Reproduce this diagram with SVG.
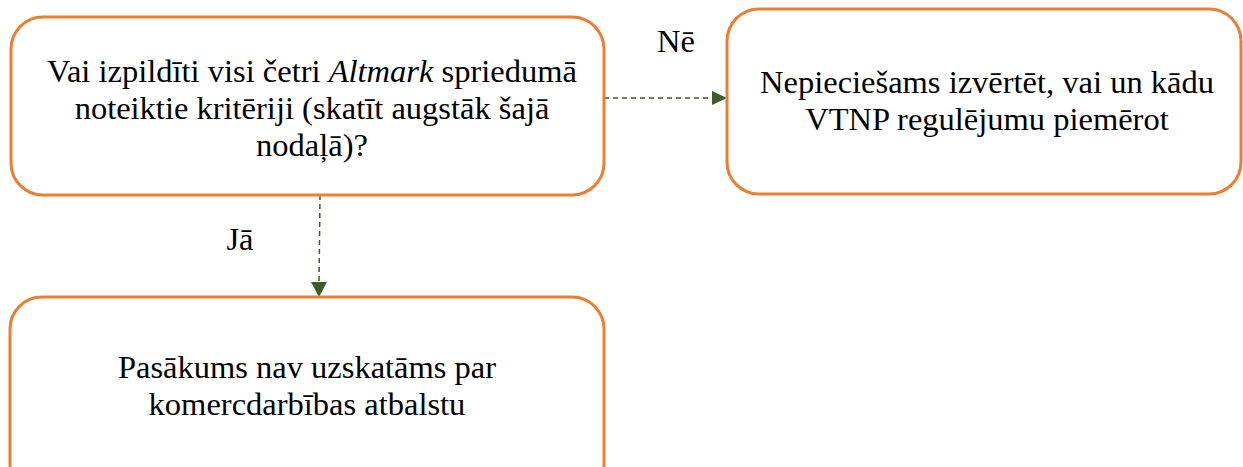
<svg xmlns="http://www.w3.org/2000/svg" width="1243" height="467" viewBox="0 0 1243 467">
<style>
.box{fill:#fff;stroke:#ED7D31;stroke-width:3}
.t{font-family:'Liberation Serif','Times New Roman',serif;font-size:32.5px;fill:#000;text-anchor:middle}
.c{stroke:#3E5B2A;stroke-width:1.5;stroke-dasharray:5,4;fill:none}
.ah{fill:#3E5B2A}
</style>
<g id="connectors">
<line class="c" x1="604" y1="98" x2="714" y2="98"/>
<path class="ah" d="M712,91 L727,98 L712,105 Z"/>
<line class="c" x1="320" y1="195" x2="319" y2="284"/>
<path class="ah" d="M311,282 L319,297 L327,282 Z"/>
<text class="t" x="676" y="52">Nē</text>
<text class="t" x="240" y="250">Jā</text>
</g>
<g id="q">
<rect class="box" x="11" y="17" width="593" height="178" rx="32"/>
<text class="t" x="312" y="82">Vai izpildīti visi četri <tspan font-style="italic">Altmark</tspan> spriedumā</text>
<text class="t" x="312" y="119">noteiktie kritēriji (skatīt augstāk šajā</text>
<text class="t" x="312" y="156">nodaļā)?</text>
</g>
<g id="ne">
<rect class="box" x="727" y="9" width="514" height="185" rx="32"/>
<text class="t" x="987" y="93">Nepieciešams izvērtēt, vai un kādu</text>
<text class="t" x="987" y="130">VTNP regulējumu piemērot</text>
</g>
<g id="ja">
<rect class="box" x="10" y="297" width="594" height="200" rx="32"/>
<text class="t" x="307" y="378">Pasākums nav uzskatāms par</text>
<text class="t" x="307" y="415">komercdarbības atbalstu</text>
</g>
</svg>
